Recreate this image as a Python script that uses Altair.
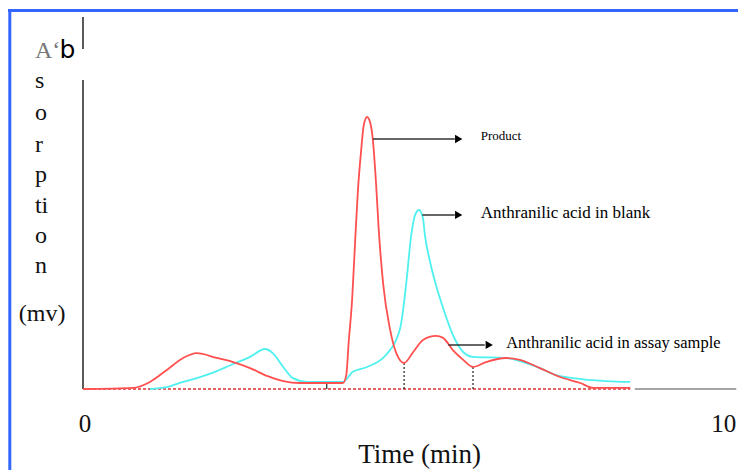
import altair as alt
import pandas as pd

# ---- data (time in min, absorption in arbitrary mV units) ----
red_t = [0, 0.77, 1.03, 1.29, 1.54, 1.75, 2.06, 2.31, 2.57, 2.83, 3.08, 3.34, 4.00, 4.05, 4.09,
         4.14, 4.18, 4.23, 4.28, 4.32, 4.37, 4.42, 4.46, 4.51, 4.55, 4.62, 4.72, 4.82, 4.94, 5.08,
         5.23, 5.43, 5.54, 5.69, 5.85, 6.00, 6.20, 6.51, 6.72, 7.03, 7.34, 7.65, 7.85, 8.42]
red_v = [0, 0.4, 2.6, 7.0, 11.4, 13.2, 11.4, 9.9, 7.7, 4.8, 2.9, 2.2, 2.2, 5.1, 18.0,
         32.7, 51.1, 73.2, 87.9, 97.1, 100, 97.8, 91.5, 75.0, 58.5, 38.2, 22.4, 13.2, 9.6, 13.6,
         18.0, 19.5, 18.8, 14.3, 10.7, 8.1, 9.9, 11.4, 10.7, 7.7, 4.4, 2.2, 0.4, 0.4]

cyan_t = [1.03, 1.29, 1.54, 1.80, 2.06, 2.31, 2.57, 2.80, 2.92, 3.08, 3.23, 3.45, 4.00, 4.15,
          4.37, 4.66, 4.88, 4.97, 5.05, 5.11, 5.17, 5.23, 5.26, 5.34, 5.43, 5.54, 5.69, 5.85,
          6.00, 6.51, 6.77, 7.03, 7.28, 7.54, 8.05, 8.42]
cyan_v = [0, 0.7, 2.6, 4.4, 6.6, 9.2, 11.8, 14.7, 13.2, 8.1, 4.0, 2.6, 2.6, 6.3,
          8.1, 12.5, 22.4, 38.2, 56.6, 64.0, 65.8, 62.9, 56.6, 46.7, 38.2, 29.8, 19.9, 13.6,
          11.8, 11.4, 9.9, 7.7, 5.1, 4.0, 2.9, 2.6]

drop_t = [3.75, 4.94, 6.00]
drop_v = [2.2, 9.6, 8.1]
drop_dash = [False, True, True]

labels = ["Product", "Anthranilic acid in blank", "Anthranilic acid in assay sample"]
arrow_t0 = [4.46, 5.22, 5.62]
arrow_t1 = [5.72, 5.72, 6.18]
arrow_head = [5.78, 5.78, 6.25]
arrow_v = [91.9, 64.0, 16.2]
label_t = [6.12, 6.12, 6.51]
label_v = [91.5, 62.9, 15.1]
label_size = [13, 17, 16.5]

ylab_text = ["s", "o", "r", "p", "ti", "o", "n"]
ylab_v = [110.7, 98.9, 87.1, 76.1, 64.7, 53.7, 42.6]

X0, X1 = -1.1538, 10.077
Y0, Y1 = -29.78, 140.07
xs = alt.Scale(domain=[X0, X1], nice=False, zero=False)
ys = alt.Scale(domain=[Y0, Y1], nice=False, zero=False)
SERIF = "Liberation Serif"

red = pd.DataFrame({"t": red_t, "v": red_v})
cyan = pd.DataFrame({"t": cyan_t, "v": cyan_v})

def X(f="t"):
    return alt.X(f"{f}:Q", scale=xs, axis=None)

def Y(f="v"):
    return alt.Y(f"{f}:Q", scale=ys, axis=None)

layers = []

# blue frame (top and left)
layers.append(alt.Chart(pd.DataFrame({"a": [0]})).mark_rule(color="#3366ff", strokeWidth=3).encode(
    x=alt.value(0), x2=alt.value(730), y=alt.value(2.5)))
layers.append(alt.Chart(pd.DataFrame({"a": [0]})).mark_rule(color="#3366ff", strokeWidth=3).encode(
    x=alt.value(1.8), y=alt.value(1), y2=alt.value(462)))

# y axis line (broken around the label)
yax = pd.DataFrame({"t": [0, 0], "v": [0, 125.0], "v2": [113.6, 136.8]})
layers.append(alt.Chart(yax).mark_rule(color="black", strokeWidth=1.3).encode(
    x=X(), y=Y(), y2="v2:Q"))

# baseline: red dashed part and gray continuation
layers.append(alt.Chart(pd.DataFrame({"t": [0], "t2": [8.42], "v": [0]})).mark_rule(
    color="#e03030", strokeWidth=1.5, strokeDash=[3, 2]).encode(x=X(), x2="t2:Q", y=Y()))
layers.append(alt.Chart(pd.DataFrame({"t": [8.49], "t2": [10.05], "v": [0]})).mark_rule(
    color="#888888", strokeWidth=1.5).encode(x=X(), x2="t2:Q", y=Y()))

# drop lines
drops = pd.DataFrame({"t": drop_t, "v": [0] * 3, "v2": drop_v, "dash": drop_dash})
layers.append(alt.Chart(drops[~drops.dash]).mark_rule(color="#222", strokeWidth=1.2).encode(
    x=X(), y=Y(), y2="v2:Q"))
layers.append(alt.Chart(drops[drops.dash]).mark_rule(color="#222", strokeWidth=1.2, strokeDash=[2, 2]).encode(
    x=X(), y=Y(), y2="v2:Q"))

# curves
layers.append(alt.Chart(cyan).mark_line(color="#4ff0f0", strokeWidth=1.8, interpolate="monotone").encode(
    x=X(), y=Y()))
layers.append(alt.Chart(red).mark_line(color="#ff5050", strokeWidth=1.8, interpolate="monotone").encode(
    x=X(), y=Y()))

# arrows
arr = pd.DataFrame({"t": arrow_t0, "t2": arrow_t1, "h": arrow_head, "v": arrow_v})
layers.append(alt.Chart(arr).mark_rule(color="#333", strokeWidth=1.5).encode(x=X(), x2="t2:Q", y=Y()))
layers.append(alt.Chart(arr).mark_point(shape="triangle-right", filled=True, color="black",
                                        size=70, opacity=1).encode(x=X("h"), y=Y()))

# annotation labels
for txt, t, v, s in zip(labels, label_t, label_v, label_size):
    layers.append(alt.Chart(pd.DataFrame({"t": [t], "v": [v], "txt": [txt]})).mark_text(
        align="left", baseline="alphabetic", font=SERIF, fontSize=s, color="black").encode(
        x=X(), y=Y(), text="txt:N"))

# y label letters
ylab = pd.DataFrame({"t": [-0.74] * len(ylab_text), "v": ylab_v, "txt": ylab_text})
layers.append(alt.Chart(ylab).mark_text(align="left", baseline="alphabetic", font=SERIF,
                                        fontSize=24, color="#111").encode(x=X(), y=Y(), text="txt:N"))
layers.append(alt.Chart(pd.DataFrame({"t": [-0.63], "v": [25.0], "txt": ["(mv)"]})).mark_text(
    align="center", baseline="alphabetic", font=SERIF, fontSize=24, color="#111").encode(
    x=X(), y=Y(), text="txt:N"))
layers.append(alt.Chart(pd.DataFrame({"t": [-0.74], "v": [121.7], "txt": ["A‘"]})).mark_text(
    align="left", baseline="alphabetic", font=SERIF, fontSize=24, color="#777").encode(
    x=X(), y=Y(), text="txt:N"))
layers.append(alt.Chart(pd.DataFrame({"t": [-0.36], "v": [121.7], "txt": ["b"]})).mark_text(
    align="left", baseline="alphabetic", font="DejaVu Sans", fontSize=25, color="black").encode(
    x=X(), y=Y(), text="txt:N"))

# x labels and title
layers.append(alt.Chart(pd.DataFrame({"t": [0.03], "v": [-15.8], "txt": ["0"]})).mark_text(
    align="center", baseline="alphabetic", font=SERIF, fontSize=25, color="#111").encode(
    x=X(), y=Y(), text="txt:N"))
layers.append(alt.Chart(pd.DataFrame({"t": [10.05], "v": [-15.8], "txt": ["10"]})).mark_text(
    align="right", baseline="alphabetic", font=SERIF, fontSize=25, color="#111").encode(
    x=X(), y=Y(), text="txt:N"))
layers.append(alt.Chart(pd.DataFrame({"t": [5.18], "v": [-27.2], "txt": ["Time (min)"]})).mark_text(
    align="center", baseline="alphabetic", font=SERIF, fontSize=27, color="#111").encode(
    x=X(), y=Y(), text="txt:N"))

chart = alt.layer(*layers).properties(
    width=730, height=462, padding=0, autosize=alt.AutoSizeParams(type="none"),
    background="white"
).configure_view(stroke=None)

chart.save("out.html", embed_options={"renderer": "svg", "actions": False})
